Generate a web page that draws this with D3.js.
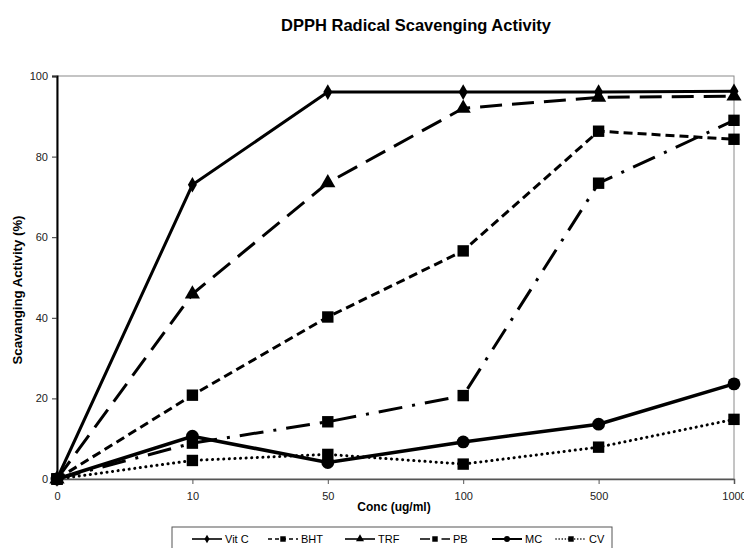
<!DOCTYPE html>
<html>
<head>
<meta charset="utf-8">
<script src="https://cdn.jsdelivr.net/npm/d3@7"></script>
<style>
  body { margin: 0; background: #fff; }
  svg { font-family: "Liberation Sans", Arial, sans-serif; }
</style>
</head>
<body>
<div class="container"></div>
<script>
var w = 744;
var h = 548;

// data
const concLabels = ["0", "10", "50", "100", "500", "1000"];
const vitC = [0, 73, 96, 96, 96, 96.2];
const bht = [0, 20.8, 40.2, 56.6, 86.3, 84.3];
const trf = [0, 45.9, 73.5, 92, 94.7, 95];
const pb = [0, 8.9, 14.2, 20.7, 73.4, 89];
const mc = [0, 10.6, 4.1, 9.2, 13.6, 23.6];
const cv = [0, 4.6, 6.1, 3.7, 7.9, 14.8];
const yTicks = [0, 20, 40, 60, 80, 100];

const series = [
  { name: "Vit C", values: vitC, dash: null, width: 3, marker: "diamond" },
  { name: "BHT", values: bht, dash: "9,5", width: 3, marker: "square" },
  { name: "TRF", values: trf, dash: "22,10", width: 3, marker: "triangle" },
  { name: "PB", values: pb, dash: "24,10,3,10", width: 3, marker: "square" },
  { name: "MC", values: mc, dash: null, width: 3.6, marker: "circle" },
  { name: "CV", values: cv, dash: "0.1,5.5", width: 3, marker: "square" }
];

const pLeft = 57, pRight = 734, pTop = 76, pBottom = 479;

var svg = d3.select(".container").append("svg")
  .attr("width", w).attr("height", h);

var x = d3.scalePoint().domain(concLabels).range([pLeft, pRight]);
var y = d3.scaleLinear().domain([0, 100]).range([pBottom, pTop]);

// plot frame
svg.append("rect")
  .attr("x", pLeft).attr("y", pTop)
  .attr("width", pRight - pLeft).attr("height", pBottom - pTop)
  .attr("fill", "none").attr("stroke", "#8a8a8a").attr("stroke-width", 1);

// x axis
var xAxis = svg.append("g")
  .attr("transform", "translate(0," + pBottom + ")")
  .call(d3.axisBottom(x).tickSize(5).tickPadding(8));
xAxis.select(".domain").attr("stroke", "#555").attr("stroke-width", 1.5);
xAxis.selectAll(".tick line").attr("stroke", "#555");
xAxis.selectAll("text").attr("font-size", 11).attr("fill", "#222")
  .attr("font-family", "'Liberation Sans', Arial");

// y axis
var yAxis = svg.append("g")
  .attr("transform", "translate(" + pLeft + ",0)")
  .call(d3.axisLeft(y).tickValues(yTicks).tickSize(5).tickPadding(4));
yAxis.select(".domain").attr("stroke", "#000").attr("stroke-width", 2);
yAxis.selectAll(".tick line").attr("stroke", "#333");
yAxis.selectAll("text").attr("font-size", 11).attr("fill", "#222")
  .attr("font-family", "'Liberation Sans', Arial");

// titles
svg.append("text")
  .attr("x", 416).attr("y", 31)
  .attr("text-anchor", "middle")
  .attr("font-size", 16.5).attr("font-weight", "bold")
  .text("DPPH Radical Scavenging Activity");

svg.append("text")
  .attr("x", 394).attr("y", 511)
  .attr("text-anchor", "middle")
  .attr("font-size", 12).attr("font-weight", "bold")
  .text("Conc (ug/ml)");

svg.append("text")
  .attr("transform", "translate(22,290) rotate(-90)")
  .attr("text-anchor", "middle")
  .attr("font-size", 13.2).attr("font-weight", "bold")
  .text("Scavanging Activity (%)");

var line = d3.line()
  .x((d, i) => x(concLabels[i]))
  .y(d => y(d));

function markerPath(type, size) {
  var sym = {
    diamond: d3.symbolDiamond,
    square: d3.symbolSquare,
    triangle: d3.symbolTriangle,
    circle: d3.symbolCircle
  }[type];
  return d3.symbol().type(sym).size(size)();
}

var markerSize = { diamond: 70, square: 130, triangle: 100, circle: 130 };

series.forEach(function (s) {
  svg.append("path")
    .datum(s.values)
    .attr("d", line)
    .attr("fill", "none")
    .attr("stroke", "#000")
    .attr("stroke-width", s.width)
    .attr("stroke-linecap", s.name === "CV" ? "round" : "butt")
    .attr("stroke-dasharray", s.dash);

  svg.append("g").selectAll("path")
    .data(s.values)
    .enter()
    .append("path")
    .attr("transform", (d, i) => "translate(" + x(concLabels[i]) + "," + y(d) + ")")
    .attr("d", markerPath(s.marker, markerSize[s.marker]))
    .attr("fill", "#000");
});

// legend
var legend = svg.append("g");
legend.append("rect")
  .attr("x", 172).attr("y", 527)
  .attr("width", 440).attr("height", 30)
  .attr("fill", "#fff").attr("stroke", "#555").attr("stroke-width", 1);

var legendX = [192, 268, 345, 420, 492, 556];
series.forEach(function (s, i) {
  var g = legend.append("g").attr("transform", "translate(" + legendX[i] + ",539)");
  g.append("line")
    .attr("x1", 0).attr("x2", 30)
    .attr("stroke", "#000")
    .attr("stroke-width", s.name === "MC" ? 2 : 1.6)
    .attr("stroke-linecap", s.name === "CV" ? "round" : "butt")
    .attr("stroke-dasharray", s.name === "BHT" ? "4,3" : s.name === "PB" ? "10,5,1.5,5" : s.name === "CV" ? "0.1,3" : null);
  g.append("path")
    .attr("transform", "translate(15,0)")
    .attr("d", markerPath(s.marker, s.marker === "square" ? 30 : s.marker === "diamond" ? 22 : 28))
    .attr("fill", "#000");
  g.append("text")
    .attr("x", 33).attr("y", 4)
    .attr("font-size", 11)
    .text(s.name);
});
</script>
</body>
</html>
